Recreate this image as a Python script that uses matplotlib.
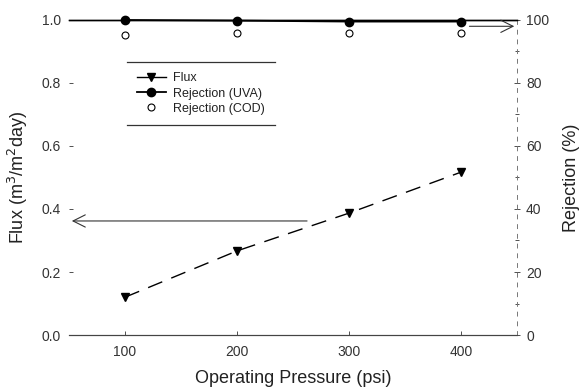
import matplotlib
matplotlib.use("Agg")
import matplotlib.pyplot as plt
from matplotlib.lines import Line2D

pressure = [100, 200, 300, 400]
flux = [0.12, 0.267, 0.387, 0.517]
rej_uva = [100.0, 99.8, 99.5, 99.5]
rej_cod = [95.3, 95.9, 95.8, 95.8]

plt.rcParams['font.family'] = ['Liberation Sans', 'DejaVu Sans']

fig = plt.figure(figsize=(5.82, 3.92), dpi=100)
ax = fig.add_axes([0.1186, 0.1454, 0.7698, 0.8036])
ax2 = ax.twinx()

ax.set_xlim(50, 450)
ax.set_ylim(0, 1.0)
ax2.set_ylim(0, 100)

ax.plot(pressure, flux, color='black', lw=1.0, dashes=(11, 7), marker='v',
        markersize=6, label='Flux', zorder=3)
ax2.plot(pressure, rej_uva, color='black', lw=1.3, marker='o', markersize=6,
         label='Rejection (UVA)', clip_on=False, zorder=3)
ax2.plot(pressure, rej_cod, ls='none', marker='o', markersize=5, mfc='white',
         mec='black', mew=0.8, label='Rejection (COD)', clip_on=False)

# Arrows
ax.annotate('', xy=(50, 0.362), xytext=(265, 0.362),
            arrowprops=dict(arrowstyle='->', color='#333333', lw=0.8,
                            mutation_scale=22))
ax2.annotate('', xy=(450, 98.0), xytext=(405, 98.0), annotation_clip=False,
             arrowprops=dict(arrowstyle='->', color='#333333', lw=0.8,
                             mutation_scale=22))

for a in (ax, ax2):
    a.spines['left'].set_visible(False)
    a.spines['top'].set_color('black')
    a.spines['top'].set_linewidth(1.0)
    a.spines['bottom'].set_color('#444444')
    a.spines['bottom'].set_linewidth(0.8)
ax.spines['right'].set_visible(False)
ax2.spines['right'].set_color('#777777')
ax2.spines['right'].set_linewidth(0.7)
ax2.spines['right'].set_linestyle((0, (4, 6)))

ax.set_xticks(pressure)
ax.set_yticks([0.0, 0.2, 0.4, 0.6, 0.8, 1.0])
ax.set_yticklabels(['0.0', '0.2', '0.4', '0.6', '0.8', '1.0'])
ax2.set_yticks([0, 20, 40, 60, 80, 100])
ax2.set_yticks([10, 30, 50, 70, 90], minor=True)

ax.tick_params(axis='x', direction='in', length=3, width=0.6, colors='#333333',
               labelsize=10, pad=7)
ax.tick_params(axis='y', direction='in', length=3, width=0.6, colors='#333333',
               labelsize=10, pad=6)
ax2.tick_params(axis='y', which='major', direction='inout', length=5, width=0.6,
                colors='#333333', labelsize=10, pad=4)
ax2.tick_params(axis='y', which='minor', direction='inout', length=3, width=0.6,
                colors='#333333')

ax.set_xlabel('Operating Pressure (psi)', fontsize=13, color='#222222', labelpad=8)
ax.set_ylabel('Flux (m$^3$/m$^2$day)', fontsize=13, color='#222222', labelpad=8)
ax2.set_ylabel('Rejection (%)', fontsize=13, color='#222222', labelpad=10)

# Legend
handles = [Line2D([], [], color='black', lw=1.0, marker='v', markersize=6),
           Line2D([], [], color='black', lw=1.3, marker='o', markersize=6),
           Line2D([], [], ls='none', marker='o', markersize=5, mfc='white',
                  mec='black', mew=0.8)]
leg = ax2.legend(handles, ['Flux', 'Rejection (UVA)', 'Rejection (COD)'],
                 loc='upper left', bbox_to_anchor=(0.115, 0.885),
                 fontsize=9, frameon=False, handlelength=2.3,
                 labelspacing=0.25, borderpad=0.8, handletextpad=0.6)
for t in leg.get_texts():
    t.set_color('#222222')
fig.canvas.draw()
bb = leg.get_window_extent().transformed(fig.transFigure.inverted())
fig.add_artist(Line2D([bb.x0, bb.x1], [bb.y1, bb.y1], color='#333333', lw=0.9,
                      transform=fig.transFigure))
fig.add_artist(Line2D([bb.x0, bb.x1], [bb.y0, bb.y0], color='#333333', lw=0.9,
                      transform=fig.transFigure))

fig.savefig('out.png', dpi=100)
